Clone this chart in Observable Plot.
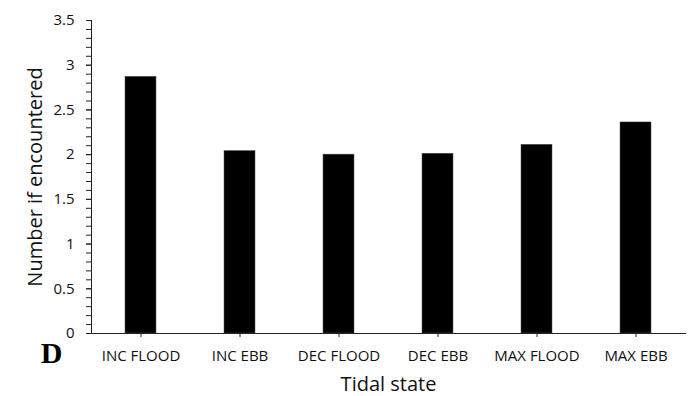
<!DOCTYPE html>
<html>
<head>
<meta charset="utf-8">
<script src="https://cdn.jsdelivr.net/npm/d3@7"></script>
<script src="https://cdn.jsdelivr.net/npm/@observablehq/plot@0.6"></script>
<style>
  html, body { margin: 0; padding: 0; background: #fff; }
</style>
</head>
<body>
<div id="chart"></div>
<script>
const categories = ["INC FLOOD", "INC EBB", "DEC FLOOD", "DEC EBB", "MAX FLOOD", "MAX EBB"];
const values = [2.87, 2.04, 2.00, 2.01, 2.11, 2.36];
const yTicks = [0, 0.5, 1, 1.5, 2, 2.5, 3, 3.5];
const yTickLabels = ["0", "0.5", "1", "1.5", "2", "2.5", "3", "3.5"];
const yMinorTicks = d3.range(0, 36).map(i => i / 10);
const xLabel = "Tidal state";
const yLabel = "Number if encountered";
const panelLetter = "D";

const data = categories.map((c, i) => ({category: c, value: values[i]}));

const chart = Plot.plot({
  width: 688,
  height: 396,
  marginLeft: 91,
  marginRight: 3,
  marginTop: 20,
  marginBottom: 63,
  style: {fontFamily: "Open Sans", fontSize: "15px", color: "#000", background: "#fff"},
  x: {domain: categories, paddingInner: 0.687, paddingOuter: 0.3435, label: null},
  y: {domain: [0, 3.5], label: null},
  marks: [
    Plot.barY(data, {x: "category", y: "value", fill: "#000", stroke: "#555", strokeWidth: 0.5}),
    Plot.axisY({ticks: yMinorTicks, tickSize: 5, tickFormat: () => "", stroke: "#222", label: null}),
    Plot.axisY({ticks: yTicks, tickSize: 5, tickPadding: 12, stroke: "#222", fontSize: 15, fill: "#111",
      tickFormat: d => yTickLabels[yTicks.indexOf(d)], label: null}),
    Plot.axisX({tickSize: 4, tickPadding: 13, stroke: "#222", fontSize: 15, fill: "#111", label: null}),
    Plot.frame({anchor: "left", stroke: "#222"}),
    Plot.frame({anchor: "bottom", stroke: "#222"}),
    Plot.text([yLabel], {frameAnchor: "left", dx: -56, rotate: -90, fontSize: 20, textAnchor: "middle", lineAnchor: "middle", fill: "#111"}),
    Plot.text([xLabel], {frameAnchor: "bottom", dy: 51, fontSize: 20, textAnchor: "middle", lineAnchor: "middle", fill: "#111"}),
    Plot.text([panelLetter], {frameAnchor: "bottom-left", dx: -40, dy: 20, fontSize: 30, fontWeight: "bold", fontFamily: "Liberation Serif", textAnchor: "middle", lineAnchor: "middle", fill: "#000"})
  ]
});
document.getElementById("chart").appendChild(chart);
</script>
</body>
</html>
